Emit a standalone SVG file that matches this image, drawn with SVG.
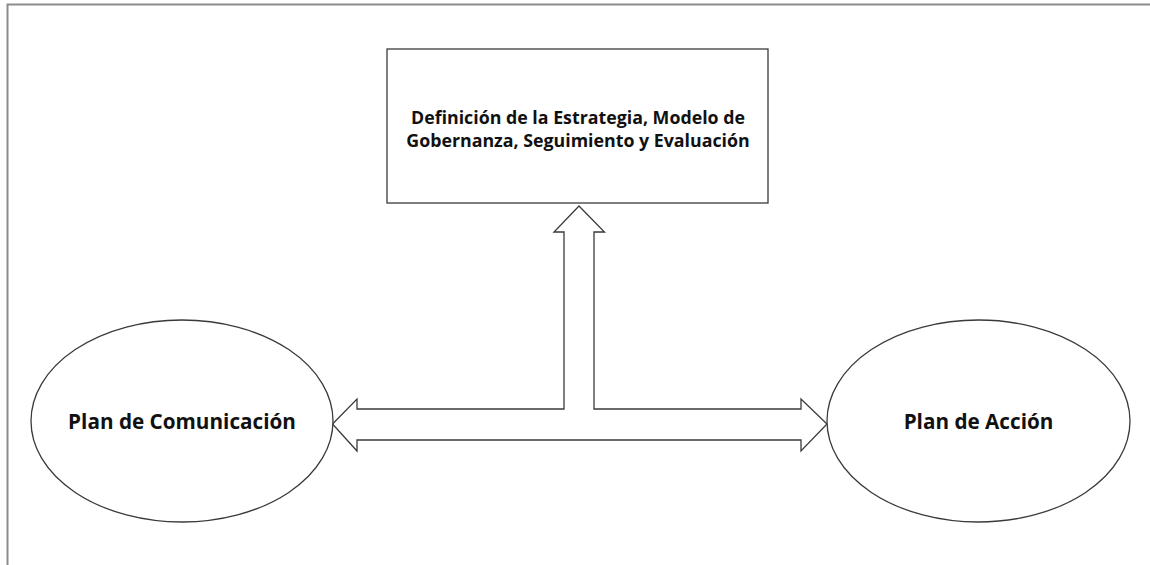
<svg xmlns="http://www.w3.org/2000/svg" width="1150" height="565" viewBox="0 0 1150 565">
<style>
.frame{stroke:#8c8c8c;stroke-width:2;fill:none}
.shape{fill:#ffffff;stroke:#3a3a3a;stroke-width:1.3}
.lbl{font-family:"Open Sans","Liberation Sans",sans-serif;font-weight:700;fill:#111111;text-anchor:middle}
</style>
<rect width="1150" height="565" fill="#ffffff"/>
<path class="frame" d="M7.5,565 V4.5 H1150"/>
<g id="connectors">
<path class="shape" d="M579,206 L604.5,232 L594,232 L594,409 L801,409 L801,399 L827,424 L801,451 L801,440 L357,440 L357,451 L332.5,424 L357,399 L357,409 L564,409 L564,232 L554,232 Z"/>
</g>
<g id="node-estrategia">
<rect class="shape" x="387" y="49" width="381" height="154"/>
<text class="lbl" font-size="17.8" x="578" y="124">Definición de la Estrategia, Modelo de</text>
<text class="lbl" font-size="17.8" x="578" y="147">Gobernanza, Seguimiento y Evaluación</text>
</g>
<g id="node-comunicacion">
<ellipse class="shape" cx="182" cy="421" rx="151" ry="101"/>
<text class="lbl" font-size="20.7" x="182" y="429">Plan de Comunicación</text>
</g>
<g id="node-accion">
<ellipse class="shape" cx="978.5" cy="421" rx="151.5" ry="101"/>
<text class="lbl" font-size="20.7" x="978.5" y="429">Plan de Acción</text>
</g>
</svg>
